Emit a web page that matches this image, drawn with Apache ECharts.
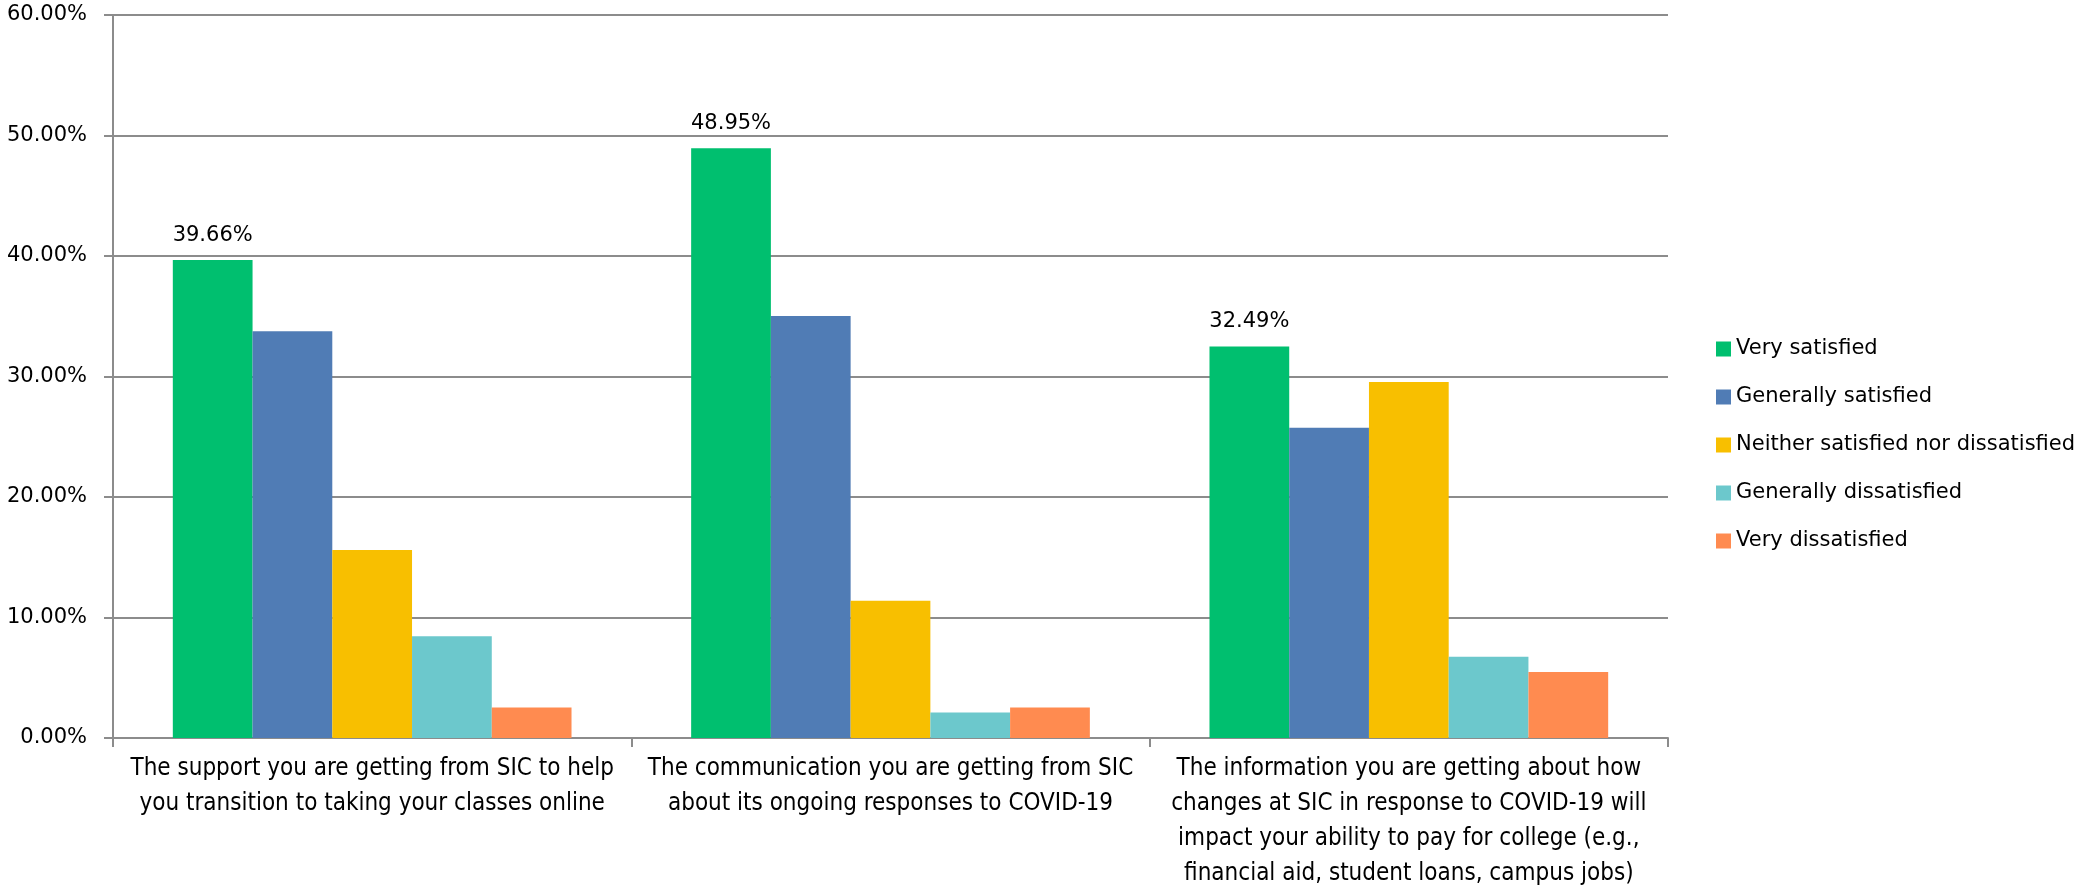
<!DOCTYPE html>
<html>
<head>
<meta charset="utf-8">
<script src="https://cdn.jsdelivr.net/npm/echarts@6/dist/echarts.min.js"></script>
<style>
html,body{margin:0;padding:0;background:#fff;}
#chart{width:2079px;height:886px;}
</style>
</head>
<body>
<div id="chart"></div>
<script>
var categories = [
  "The support you are getting from SIC to help\nyou transition to taking your classes online",
  "The communication you are getting from SIC\nabout its ongoing responses to COVID-19",
  "The information you are getting about how\nchanges at SIC in response to COVID-19 will\nimpact your ability to pay for college (e.g.,\nfinancial aid, student loans, campus jobs)"
];
var seriesNames = ["Very satisfied", "Generally satisfied", "Neither satisfied nor dissatisfied", "Generally dissatisfied", "Very dissatisfied"];
var verySatisfied = [39.66, 48.95, 32.49];
var generallySatisfied = [33.76, 35.02, 25.74];
var neither = [15.61, 11.39, 29.54];
var generallyDissatisfied = [8.44, 2.11, 6.75];
var veryDissatisfied = [2.53, 2.53, 5.48];
var colors = ["#00BF6F", "#507CB5", "#F8BF00", "#6CC8CC", "#FF8B50"];

var allData = [verySatisfied, generallySatisfied, neither, generallyDissatisfied, veryDissatisfied];

var chart = echarts.init(document.getElementById('chart'));
var series = seriesNames.map(function(name, i){
  var s = {
    name: name,
    type: 'bar',
    data: allData[i],
    barGap: '0%',
    barCategoryGap: '23.08%',
    itemStyle: {color: colors[i]},
    emphasis: {disabled: true}
  };
  if (i === 0) {
    s.label = {
      show: true,
      position: 'top',
      distance: 14,
      fontFamily: 'DejaVu Sans',
      fontSize: 21,
      color: '#000',
      formatter: function(p){ return p.value.toFixed(2) + '%'; }
    };
  }
  return s;
});

chart.setOption({
  animation: false,
  color: colors,
  grid: {left: 113, right: 411, top: 15, bottom: 148, containLabel: false, outerBoundsMode: 'none'},
  legend: {
    orient: 'vertical',
    left: 1711,
    top: 332,
    itemWidth: 15,
    itemHeight: 15,
    itemGap: 24,
    icon: 'rect',
    data: seriesNames,
    textStyle: {fontFamily: 'DejaVu Sans', fontSize: 21, color: '#000', lineHeight: 24}
  },
  xAxis: {
    type: 'category',
    data: categories,
    boundaryGap: true,
    axisLine: {show: true, lineStyle: {color: '#8c8c8c', width: 2}},
    axisTick: {show: true, length: 9, alignWithLabel: false, lineStyle: {color: '#8c8c8c', width: 2}},
    axisLabel: {
      interval: 0,
      margin: 13,
      fontFamily: 'DejaVu Sans Condensed',
      fontSize: 24,
      lineHeight: 35,
      color: '#000',
      align: 'center'
    }
  },
  yAxis: {
    type: 'value',
    min: 0,
    max: 60,
    interval: 10,
    axisLine: {show: true, lineStyle: {color: '#8c8c8c', width: 2}},
    axisTick: {show: true, length: 9, lineStyle: {color: '#8c8c8c', width: 2}},
    splitLine: {show: true, lineStyle: {color: '#8c8c8c', width: 2}},
    axisLabel: {
      margin: 26,
      fontFamily: 'DejaVu Sans',
      fontSize: 21,
      color: '#000',
      formatter: function(v){ return v.toFixed(2) + '%'; }
    }
  },
  series: series
});
</script>
</body>
</html>
